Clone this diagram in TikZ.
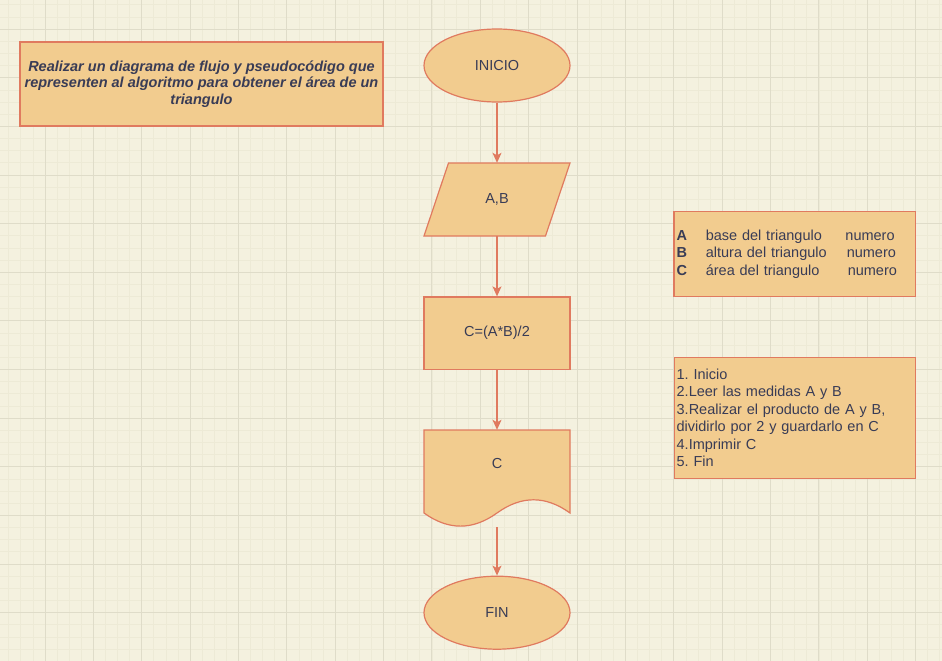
\documentclass[tikz,border=0pt]{standalone}
\usepackage{fontspec}
\setmainfont{Liberation Sans}
\frenchspacing
\usetikzlibrary{arrows.meta,shapes.geometric}
\definecolor{papel}{HTML}{F4F1DF}
\definecolor{rejilla}{HTML}{EDEAD6}
\definecolor{rejillaf}{HTML}{DFDCC9}
\definecolor{relleno}{HTML}{F2CC8F}
\definecolor{borde}{HTML}{E07A5F}
\definecolor{letra}{HTML}{393C56}
\tikzset{
	texto/.style={text=letra, font=\fontsize{14.5}{17.5}\selectfont, inner sep=0pt},
	figura/.style={draw=borde, fill=relleno, line width=1.2pt},
	caja/.style={figura, texto, rectangle},
	ovalo/.style={figura, texto, ellipse, minimum width=146pt, minimum height=73pt},
	flecha/.style={draw=borde, line width=1.2pt, -{Stealth[length=10pt, width=9pt, inset=2.5pt]}},
}

\begin{document}
\begin{tikzpicture}[x=1pt, y=-1pt]
			%%%%% FONDO %%%%%
			
			\useasboundingbox (0,0) rectangle (942,661);
			\fill[papel] (0,0) rectangle (942,661);
			\foreach \k in {0,...,78} \draw[rejilla, line width=0.8pt] ({-3.37+12.0925*\k},0) -- ++(0,661);
			\foreach \k in {0,...,55} \draw[rejilla, line width=0.8pt] (0,{-7.36+12.1575*\k}) -- ++(942,0);
			\foreach \k in {0,...,19} \draw[rejillaf, line width=1pt] ({-3.37+48.37*\k},0) -- ++(0,661);
			\foreach \k in {0,...,13} \draw[rejillaf, line width=1pt] (0,{-19.52+48.63*\k}) -- ++(942,0);
			
			%%%%% ENUNCIADO %%%%%
			
			\node[caja, minimum width=363pt, minimum height=84pt, align=center, font=\fontsize{14.5}{16.7}\selectfont\bfseries\itshape] (titulo) at (201.5,84) {Realizar un diagrama de flujo y pseudocódigo que\\representen al algoritmo para obtener el área de un\\triangulo};
			
			%%%%% DIAGRAMA %%%%%
			
			\node[ovalo] (inicio) at (497,65.5) {INICIO};
			
			\draw[figura] (448.5,163) -- (570,163) -- (545.5,236) -- (424,236) -- cycle;
			\node[texto, minimum width=146pt, minimum height=73pt] (datos) at (497,199.5) {A,B};
			
			\node[caja, minimum width=146pt, minimum height=72.5pt] (calculo) at (497,333.2) {C=(A*B)/2};
			
			\draw[figura] (424,430) -- (570,430) -- (570,513) .. controls (545.67,495.4) and (521.33,495.4) .. (497,513) .. controls (472.67,530.5) and (448.33,530.5) .. (424,513) -- cycle;
			\node[texto, minimum width=146pt, minimum height=68pt] (salida) at (497,464) {C};
			
			\node[ovalo] (fin) at (497,612.7) {FIN};
			
			\draw[flecha] (inicio) -- (datos);
			\draw[flecha] (datos) -- (calculo);
			\draw[flecha] (calculo) -- (salida);
			\draw[flecha] ([yshift=-29pt]salida.south) -- (fin);
			
			%%%%% VARIABLES Y PASOS %%%%%
			
			\node[caja, minimum height=85pt, text width=236.7pt, inner xsep=2.5pt, align=left] (variables) at (794.85,254.2) {\makebox[29.3pt][l]{\textbf{A}}\makebox[139.7pt][l]{base del triangulo}numero\\\makebox[29.3pt][l]{\textbf{B}}\makebox[141pt][l]{altura del triangulo}numero\\\makebox[29.3pt][l]{\textbf{C}}\makebox[142pt][l]{área del triangulo}numero};
			
			\node[caja, minimum height=121pt, text width=236.7pt, inner xsep=2.5pt, align=left] (pasos) at (795,417.8) {1. Inicio\\2.Leer las medidas A y B\\3.Realizar el producto de A y B,\\dividirlo por 2 y guardarlo en C\\4.Imprimir C\\5. Fin};
			
\end{tikzpicture}
\end{document}
